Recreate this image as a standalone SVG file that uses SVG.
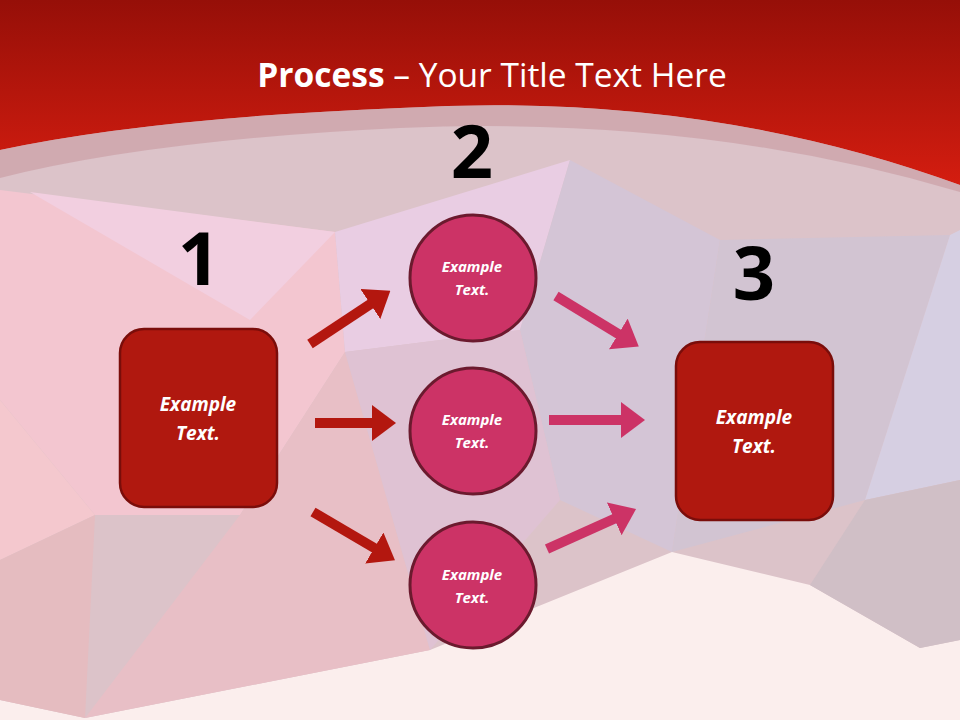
<svg xmlns="http://www.w3.org/2000/svg" width="960" height="720" viewBox="0 0 960 720">
<defs>
<linearGradient id="hdr" x1="0" y1="0" x2="0" y2="1"><stop offset="0" stop-color="#960f08"/><stop offset="1" stop-color="#d41d10"/></linearGradient>
<marker id="ahR" markerWidth="2.4" markerHeight="3.6" refX="0.2" refY="1.8" orient="auto" markerUnits="strokeWidth"><path d="M0,0 L2.4,1.8 L0,3.6 Z" fill="#b3170f"/></marker>
<marker id="ahP" markerWidth="2.4" markerHeight="3.6" refX="0.2" refY="1.8" orient="auto" markerUnits="strokeWidth"><path d="M0,0 L2.4,1.8 L0,3.6 Z" fill="#cc3366"/></marker>
</defs>
<style>
.box{fill:#b0180f;stroke:#7a0d0a;stroke-width:2.5}
.circ{fill:#cc3366;stroke:#6b1a2e;stroke-width:3}
.lbl{font-family:"Open Sans","Liberation Sans",sans-serif;font-weight:bold;font-style:italic;fill:#fff;text-anchor:middle}
.num{font-family:"Open Sans","Liberation Sans",sans-serif;font-weight:bold;font-size:74px;fill:#000;text-anchor:middle}
.ar{stroke:#b3170f;stroke-width:10;marker-end:url(#ahR)}
.ap{stroke:#cc3366;stroke-width:10;marker-end:url(#ahP)}
</style>
<rect width="960" height="720" fill="#fbeeed"/>
<g id="background">
<polygon points="0,90 960,90 960,640 920,648 810,585 672,552 430,650 85,718 0,700" fill="#dcc3c9"/>
<polygon points="0,190 335,232 345,352 240,515 95,515 0,400" fill="#f3c6d0"/>
<polygon points="30,192 335,232 250,320" fill="#f2cfe0"/>
<polygon points="335,232 570,160 520,330 345,352" fill="#e9cde3"/>
<polygon points="240,515 345,352 430,650 85,718" fill="#e8bfc6"/>
<polygon points="0,400 95,515 0,560" fill="#f4c8ce"/>
<polygon points="0,560 95,515 85,718 0,700" fill="#e5bcc0"/>
<polygon points="520,330 570,160 720,240 672,552 560,500" fill="#d4c5d6"/>
<polygon points="720,240 950,235 865,500 672,552" fill="#d2c4d2"/>
<polygon points="950,235 960,230 960,480 865,500" fill="#d6cfe2"/>
<polygon points="865,500 960,480 960,640 920,648 810,585" fill="#d0bfc6"/>
<polygon points="345,352 520,330 560,500 430,650" fill="#dfc2d3"/>
</g>
<g id="header">
<path d="M0,0 H960 V185 Q700,90 400,108 Q150,118 0,150 Z" fill="url(#hdr)"/>
<path d="M0,150 Q150,118 400,108 Q700,90 960,185 V192 Q700,115 400,128 Q150,140 0,178 Z" fill="#c89aa0" opacity="0.6"/>
<text x="492" y="87" font-family="'Open Sans','Liberation Sans',sans-serif" font-size="33.5" fill="#fff" text-anchor="middle"><tspan font-weight="bold">Process</tspan> – Your Title Text Here</text>
</g>
<g id="connectors">
<line class="ar" x1="310" y1="344" x2="372" y2="303"/>
<line class="ar" x1="315" y1="423" x2="374" y2="423"/>
<line class="ar" x1="313" y1="512" x2="376" y2="549"/>
<line class="ap" x1="556" y1="296" x2="620" y2="335"/>
<line class="ap" x1="549" y1="420" x2="623" y2="420"/>
<line class="ap" x1="547" y1="549" x2="616" y2="518"/>
</g>
<g id="node1"><text class="num" x="199" y="285">1</text><rect class="box" x="120" y="329" width="157" height="178" rx="24"/><text class="lbl" x="198" y="411" font-size="19">Example</text><text class="lbl" x="198" y="440" font-size="19">Text.</text></g>
<g id="node2a"><text class="num" x="472" y="178">2</text><circle class="circ" cx="473" cy="278" r="63"/><text class="lbl" x="472" y="272" font-size="15">Example</text><text class="lbl" x="472" y="295" font-size="15">Text.</text></g>
<g id="node2b"><circle class="circ" cx="473" cy="431" r="63"/><text class="lbl" x="472" y="425" font-size="15">Example</text><text class="lbl" x="472" y="448" font-size="15">Text.</text></g>
<g id="node2c"><circle class="circ" cx="473" cy="585" r="63"/><text class="lbl" x="472" y="580" font-size="15">Example</text><text class="lbl" x="472" y="603" font-size="15">Text.</text></g>
<g id="node3"><text class="num" x="754" y="300">3</text><rect class="box" x="676" y="342" width="157" height="178" rx="24"/><text class="lbl" x="754" y="424" font-size="19">Example</text><text class="lbl" x="754" y="453" font-size="19">Text.</text></g>
</svg>
